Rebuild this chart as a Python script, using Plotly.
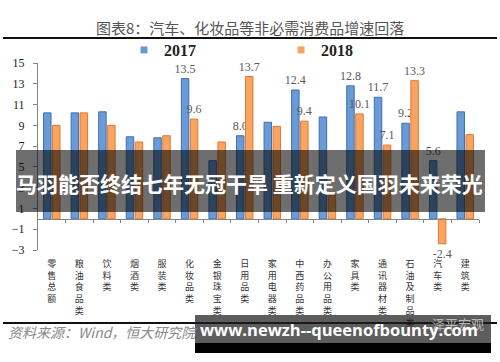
import plotly.graph_objects as go

categories = ["零售总额", "粮油食品类", "饮料类", "烟酒类", "服装类", "化妆品类", "金银珠宝类", "日用品类",
              "家用电器类", "中西药品类", "办公用品类", "家具类", "通讯器材类", "石油及制品类", "汽车类", "建筑类"]
values_2017 = [10.2, 10.2, 10.3, 7.9, 7.8, 13.5, 5.6, 8.0, 9.3, 12.4, 9.8, 12.8, 11.7, 9.2, 5.6, 10.3]
values_2018 = [9.0, 10.2, 9.0, 7.4, 8.0, 9.6, 7.4, 13.7, 8.9, 9.4, 2.3, 10.1, 7.1, 13.3, -2.4, 8.1]
labeled = [False, False, False, False, False, True, False, True, False, True, False, True, True, True, True, False]
y_ticks = [-3, -1, 1, 3, 5, 7, 9, 11, 13, 15]

W, H = 500, 362
ML, MR, MT, MB = 38, 21, 63, 112
PW, PH = W - ML - MR, H - MT - MB


def px(x):
    return (x - ML) / PW


def py(y):
    return (H - MB - y) / PH


xs = list(range(len(categories)))
ticktext = ["<br>".join(list(c)) for c in categories]

BLUE_FILL, BLUE_LINE = "#6A9BD6", "#3F6FB0"
ORG_FILL, ORG_LINE = "#F8A563", "#E5782F"
LABEL_FONT = dict(family="Liberation Serif, serif", size=12, color="#595959")

fig = go.Figure()
fig.add_trace(go.Bar(
    x=xs, y=values_2017, name="2017", showlegend=False,
    marker=dict(color=BLUE_FILL, line=dict(color=BLUE_LINE, width=1)),
    text=[f"{v:.1f}" if f else "" for v, f in zip(values_2017, labeled)],
    textposition="outside", textfont=LABEL_FONT, cliponaxis=False, constraintext="none",
))
fig.add_trace(go.Bar(
    x=xs, y=values_2018, name="2018", showlegend=False,
    marker=dict(color=ORG_FILL, line=dict(color=ORG_LINE, width=1)),
    text=[f"{v:.1f}" if f else "" for v, f in zip(values_2018, labeled)],
    textposition="outside", textfont=LABEL_FONT, cliponaxis=False, constraintext="none",
))
# legend entries
fig.add_trace(go.Scatter(x=[None], y=[None], mode="markers", name="2017",
                         marker=dict(symbol="square", size=7, color=BLUE_FILL)))
fig.add_trace(go.Scatter(x=[None], y=[None], mode="markers", name="2018",
                         marker=dict(symbol="square", size=7, color=ORG_FILL)))
# zero axis with boundary ticks
fig.add_trace(go.Scatter(x=[None], y=[None], xaxis="x2", showlegend=False, hoverinfo="skip"))

ymin, ymax = y_ticks[0], y_ticks[-1]
axis_gray = "#868686"

fig.update_layout(
    width=W, height=H,
    margin=dict(l=ML, r=MR, t=MT, b=MB, pad=0),
    paper_bgcolor="white", plot_bgcolor="white",
    barmode="group", bargap=0.348, bargroupgap=0.167,
    font=dict(family="Noto Sans CJK SC", color="#333"),
    xaxis=dict(range=[-0.5, len(categories) - 0.5], tickmode="array", tickvals=xs, ticktext=ticktext,
               tickangle=0, ticks="", showline=False, showgrid=False, zeroline=False,
               ticklabelstandoff=7,
               tickfont=dict(family="Noto Sans CJK SC", size=9, color="#333")),
    xaxis2=dict(overlaying="x", anchor="free", position=(0 - ymin) / (ymax - ymin), side="bottom",
                range=[-0.5, len(categories) - 0.5], tickmode="array",
                tickvals=[i + 0.5 for i in xs], ticks="outside", ticklen=3, tickcolor=axis_gray,
                showticklabels=False, showline=True, linecolor=axis_gray, linewidth=1,
                showgrid=False, zeroline=False),
    yaxis=dict(range=[ymin, ymax], tickmode="array", tickvals=y_ticks, ticks="outside", ticklen=4,
               tickcolor=axis_gray, showline=True, linecolor=axis_gray, linewidth=1,
               showgrid=False, zeroline=False, ticklabelstandoff=6,
               tickfont=dict(family="Liberation Serif, serif", size=12, color="#222")),
    legend=dict(orientation="h", x=px(124), y=py(50), xanchor="left", yanchor="middle",
                font=dict(family="Liberation Serif, serif", size=16, color="#222", weight="bold"),
                itemwidth=30, entrywidth=112, entrywidthmode="pixels",
                bgcolor="rgba(0,0,0,0)", traceorder="normal"),
)

shapes = [
    dict(type="line", xref="paper", yref="paper", x0=px(3), x1=px(497), y0=py(38), y1=py(38),
         line=dict(color="#111", width=2)),
    dict(type="line", xref="paper", yref="paper", x0=px(3), x1=px(497), y0=py(323), y1=py(323),
         line=dict(color="#111", width=2)),
    # headline banner
    dict(type="rect", xref="paper", yref="paper", x0=px(16), x1=px(485), y0=py(150), y1=py(212),
         fillcolor="rgba(0,0,0,0.57)", line=dict(width=0), layer="above"),
    # url banner
    dict(type="rect", xref="paper", yref="paper", x0=px(195), x1=px(491), y0=py(315), y1=py(343),
         fillcolor="rgba(30,30,30,0.72)", line=dict(width=0), layer="above"),
    dict(type="rect", xref="paper", yref="paper", x0=px(195), x1=px(491), y0=py(343), y1=py(353),
         fillcolor="#000", line=dict(width=0), layer="above"),
]
fig.update_layout(shapes=shapes)

annotations = [
    dict(text="图表8：汽车、化妆品等非必需消费品增速回落", x=px(250), y=py(28), xanchor="center", yanchor="middle",
         font=dict(family="Noto Sans CJK SC", size=15, color="#555")),
    dict(text="<i>资料来源：Wind，恒大研究院</i>", x=px(102), y=py(332), xanchor="center", yanchor="middle",
         font=dict(family="Noto Sans CJK SC", size=14, color="#888")),
    dict(text="泽平宏观", x=px(458), y=py(323), xanchor="center", yanchor="middle",
         font=dict(family="Noto Sans CJK SC", size=13, color="#bbb")),
    dict(text="<b>马羽能否终结七年无冠干旱 重新定义国羽未来荣光</b>", x=px(249), y=py(183), xanchor="center",
         yanchor="middle", font=dict(family="Noto Sans CJK SC", size=21, color="white")),
    dict(text="<b>www.newzh--queenofbounty.com</b>", x=px(339), y=py(329), xanchor="center", yanchor="middle",
         font=dict(family="Open Sans", size=16.5, color="white")),
]
for a in annotations:
    a.update(xref="paper", yref="paper", showarrow=False)
fig.update_layout(annotations=annotations)

fig.write_html("out.html", config={"displayModeBar": False},
               post_script="document.body.style.margin='0';")
